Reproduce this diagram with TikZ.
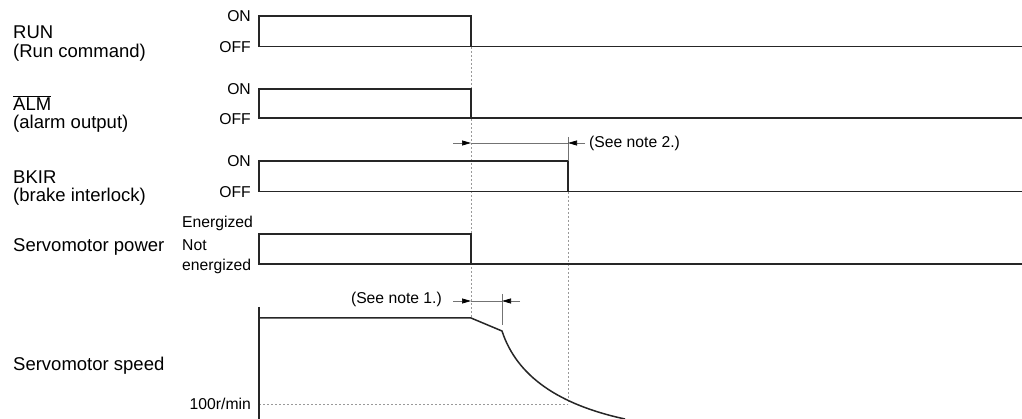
\documentclass[tikz,border=0pt]{standalone}
\usepackage{fontspec}
\setmainfont{Liberation Sans}
\usetikzlibrary{arrows.meta}
\begin{document}
\begin{tikzpicture}[x=1pt,y=-1pt,
  sig/.style={line width=1.5pt, black!85, line join=miter},
  guide/.style={line width=0.8pt, black!40, dash pattern=on 2pt off 2pt},
  dim/.style={line width=0.7pt, black!55},
  tipto/.style={dim, -{Triangle[length=9pt,width=5pt,color=black]}},
  big/.style={font=\fontsize{18.5}{21}\selectfont, inner sep=0pt, anchor=west},
  small/.style={font=\fontsize{15.7}{19}\selectfont, inner sep=0pt},
  lvl/.style={small, anchor=east}]
\useasboundingbox (0,0) rectangle (1022,419);

% ---- left labels
\node[big] (run1) at (13,32) {RUN};
\node[big] (run2) at (13,53) {(Run command)};
\node[big] (alm1) at (13,103) {$\overline{\hbox{ALM}}$};
\node[big] (alm2) at (13,124) {(alarm output)};
\node[big] (bk1) at (13,177) {BKIR};
\node[big] (bk2) at (13,197) {(brake interlock)};
\node[big] (pw) at (13,247) {Servomotor power};
\node[big] (sp) at (13,366) {Servomotor speed};

% ---- level labels
\node[lvl] (on1) at (251,16) {ON};
\node[lvl] (off1) at (251,47) {OFF};
\node[lvl] (on2) at (251,89) {ON};
\node[lvl] (off2) at (251,119) {OFF};
\node[lvl] (on3) at (251,161) {ON};
\node[lvl] (off3) at (251,192) {OFF};
\node[small, anchor=west] (en) at (182,223) {Energized};
\node[small, anchor=west] (ne1) at (182,245) {Not};
\node[small, anchor=west] (ne2) at (182,266) {energized};
\node[lvl] (rpm) at (251,404) {100r/min};

% ---- guide lines
\draw[guide] (471,47) -- (471,318);
\draw[guide] (568,192) -- (568,404);
\draw[guide] (259,404) -- (568,404);

% ---- signals
\draw[sig] (1022,46.5) -- (259,46.5) -- (259,16) -- (471,16) -- (471,46.5);
\draw[sig] (1022,118) -- (259,118) -- (259,89) -- (471,89) -- (471,118);
\draw[sig] (1022,191.5) -- (259,191.5) -- (259,161) -- (568,161) -- (568,191.5);
\draw[sig] (1022,264) -- (259,264) -- (259,234) -- (471,234) -- (471,264);
\draw[sig] (259,307) -- (259,419);
\coordinate (kink) at (502,331);
\coordinate (stopend) at (625,419);
\draw[sig] (259,318) -- (471,318) -- (kink)
  .. controls (517,377) and (560,405) .. (stopend);

% ---- note 2 dimension
\coordinate (n2a) at (453,143);
\coordinate (n2b) at (585,143);
\coordinate (n2l) at (471,143);
\coordinate (n2r) at (568,143);
\draw[dim] (n2l) -- (n2r);
\draw[dim] (568,137) -- (568,161);
\draw[tipto] (n2a) -- (n2l);
\draw[tipto] (n2b) -- (n2r);
\node[small, anchor=west] (note2) at (589,143) {(See note 2.)};

% ---- note 1 dimension
\coordinate (n1a) at (453,301);
\coordinate (n1b) at (520,301);
\coordinate (n1l) at (471,301);
\coordinate (n1r) at (502,301);
\draw[dim] (n1l) -- (n1r);
\draw[dim] (502,294) -- (502,325);
\draw[tipto] (n1a) -- (n1l);
\draw[tipto] (n1b) -- (n1r);
\node[small, anchor=east] (note1) at (442,299) {(See note 1.)};
\end{tikzpicture}
\end{document}
